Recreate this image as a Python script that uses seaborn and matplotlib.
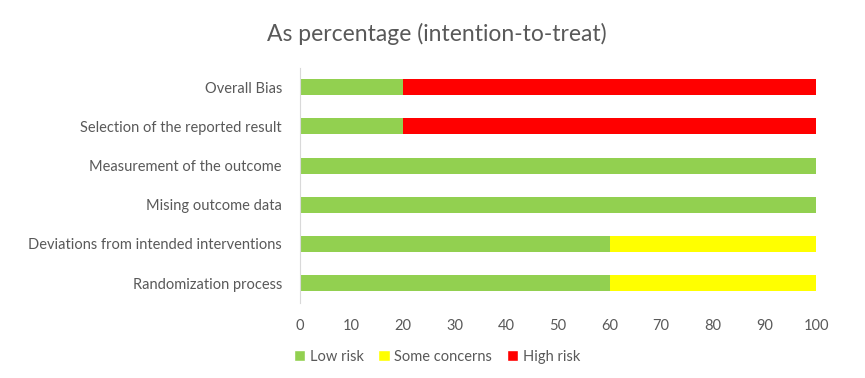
import seaborn as sns
import matplotlib.pyplot as plt
import pandas as pd
from matplotlib.patches import Patch

domains = ["Overall Bias", "Selection of the reported result", "Measurement of the outcome",
           "Mising outcome data", "Deviations from intended interventions", "Randomization process"]
low_risk = [20, 20, 100, 100, 60, 60]
some_concerns = [0, 0, 0, 0, 40, 40]
high_risk = [80, 80, 0, 0, 0, 0]

colors = {"Low risk": "#92D050", "Some concerns": "#FFFF00", "High risk": "#FF0000"}
text_color = "#595959"

sns.set_style("white")
plt.rcParams['font.family'] = ['Lato', 'DejaVu Sans']

df = pd.DataFrame({"domain": domains, "low": low_risk, "some": some_concerns, "high": high_risk})
df["cum_some"] = df["low"] + df["some"]
df["cum_high"] = df["cum_some"] + df["high"]

fig = plt.figure(figsize=(8.65, 3.78), dpi=100)
ax = fig.add_axes([0.3468, 0.199, 0.5966, 0.622])

# stacked bars drawn back to front
for col, name in [("cum_high", "High risk"), ("cum_some", "Some concerns"), ("low", "Low risk")]:
    sns.barplot(data=df, x=col, y="domain", order=domains, orient="h",
                color=colors[name], width=0.41, saturation=1, ax=ax, linewidth=0)

ax.set_xlim(0, 100)
ax.set_ylim(5.5, -0.5)
ax.set_xticks(range(0, 101, 10))
ax.set_xlabel("")
ax.set_ylabel("")
ax.tick_params(axis="both", length=0, labelsize=10.5, colors=text_color, pad=13)
ax.tick_params(axis="x", pad=12)
for s in ["top", "right", "bottom"]:
    ax.spines[s].set_visible(False)
ax.spines["left"].set_color("#D9D9D9")

fig.suptitle("As percentage (intention-to-treat)", x=0.505, y=0.94, fontsize=16.5, color=text_color)

handles = [Patch(facecolor=c, label=n) for n, c in colors.items()]
fig.legend(handles=handles, loc="center", bbox_to_anchor=(0.505, 0.056), ncol=3, frameon=False,
           fontsize=10.5, labelcolor=text_color, handlelength=0.8, handleheight=0.8,
           handletextpad=0.3, columnspacing=1.0)

fig.savefig("out.png", dpi=100)
